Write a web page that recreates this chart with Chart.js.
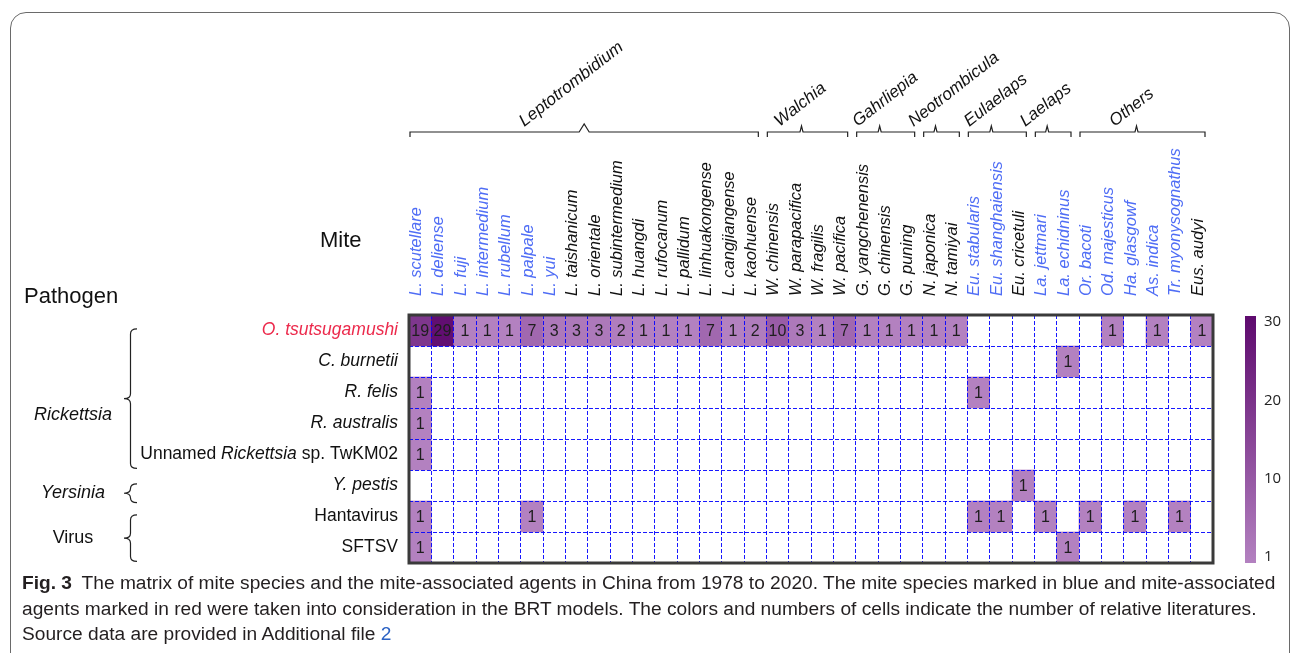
<!DOCTYPE html>
<html>
<head>
<meta charset="utf-8">
<script src="https://cdn.jsdelivr.net/npm/chart.js@4.4.1/dist/chart.umd.min.js"></script>
<style>
  body { margin: 0; background: #fff; width: 1295px; height: 653px; overflow: hidden; position: relative; font-family: 'Liberation Sans', Arial, sans-serif; }
  #frame { position: absolute; left: 10px; top: 12px; width: 1278px; height: 720px; border: 1.3px solid #6a6a6a; border-radius: 16px; }
  #wrap { position: absolute; left: 0; top: 0; }
  #caption { position: absolute; left: 22px; top: 571px; font-size: 18px; line-height: 25.5px; color: #231f20; white-space: nowrap; transform-origin: 0 0; }
  #caption b { margin-right: 9px; }
  #caption .ref { color: #2b62c4; }
</style>
</head>
<body>
<div id="frame"></div>
<div id="wrap"><canvas id="matriz" width="1295" height="653"></canvas></div>
<div id="caption">
  <div><span id="linha1"><b>Fig. 3</b>The matrix of mite species and the mite-associated agents in China from 1978 to 2020. The mite species marked in blue and mite-associated</span></div>
  <div>agents marked in red were taken into consideration in the BRT models. The colors and numbers of cells indicate the number of relative literatures.</div>
  <div>Source data are provided in Additional file <span class="ref">2</span></div>
</div>
<script>
  // ESPÉCIES DE ÁCAROS (colunas)
  const mites = ['L. scutellare', 'L. deliense', 'L. fuji', 'L. intermedium', 'L. rubellum', 'L. palpale', 'L. yui',
    'L. taishanicum', 'L. orientale', 'L. subintermedium', 'L. huangdi', 'L. rufocanum', 'L. pallidum',
    'L. linhuakongense', 'L. cangjiangense', 'L. kaohuense',
    'W. chinensis', 'W. parapacifica', 'W. fragilis', 'W. pacifica',
    'G. yangchenensis', 'G. chinensis', 'G. puning',
    'N. japonica', 'N. tamiyai',
    'Eu. stabularis', 'Eu. shanghaiensis', 'Eu. cricetuli',
    'La. jettmari', 'La. echidninus',
    'Or. bacoti', 'Od. majesticus', 'Ha. glasgowf', 'As. indica', 'Tr. myonysognathus', 'Eus. audyi'];

  // 1 = considered in the BRT models (blue label)
  const inBRT = [1,1,1,1,1,1,1, 0,0,0,0,0,0, 0,0,0, 0,0,0,0, 0,0,0, 0,0, 1,1,0, 1,1, 1,1,1,1,1,0];

  const genera = ['Leptotrombidium', 'Walchia', 'Gahrliepia', 'Neotrombicula', 'Eulaelaps', 'Laelaps', 'Others'];
  const genusCols = [[0, 15], [16, 19], [20, 22], [23, 24], [25, 27], [28, 29], [30, 35]];

  // PATÓGENOS (linhas) - pieces of [text, italic]
  const pathogens = [
    [['O. tsutsugamushi', true]],
    [['C. burnetii', true]],
    [['R. felis', true]],
    [['R. australis', true]],
    [['Unnamed ', false], ['Rickettsia', true], [' sp. TwKM02', false]],
    [['Y. pestis', true]],
    [['Hantavirus', false]],
    [['SFTSV', false]]
  ];
  const brtPathogen = [1,0,0,0,0,0,0,0];

  const pathogenGroups = ['Rickettsia', 'Yersinia', 'Virus'];
  const groupItalic = [true, true, false];
  const groupRows = [[0, 4], [5, 5], [6, 7]];

  // number of literatures, one array per pathogen
  //                     Leptotrombidium                    | Walchia  | Gahr. | Neo | Eulael.| Lael.| Others
  const oTsutsugamushi = [19,29,1,1,1,7,3,3,3,2,1,1,1,7,1,2, 10,3,1,7, 1,1,1, 1,1, 0,0,0, 0,0, 0,1,0,1,0,1];
  const cBurnetii      = [0,0,0,0,0,0,0,0,0,0,0,0,0,0,0,0,  0,0,0,0,  0,0,0, 0,0, 0,0,0, 0,1, 0,0,0,0,0,0];
  const rFelis         = [1,0,0,0,0,0,0,0,0,0,0,0,0,0,0,0,  0,0,0,0,  0,0,0, 0,0, 1,0,0, 0,0, 0,0,0,0,0,0];
  const rAustralis     = [1,0,0,0,0,0,0,0,0,0,0,0,0,0,0,0,  0,0,0,0,  0,0,0, 0,0, 0,0,0, 0,0, 0,0,0,0,0,0];
  const unnamedRick    = [1,0,0,0,0,0,0,0,0,0,0,0,0,0,0,0,  0,0,0,0,  0,0,0, 0,0, 0,0,0, 0,0, 0,0,0,0,0,0];
  const yPestis        = [0,0,0,0,0,0,0,0,0,0,0,0,0,0,0,0,  0,0,0,0,  0,0,0, 0,0, 0,0,1, 0,0, 0,0,0,0,0,0];
  const hantavirus     = [1,0,0,0,0,1,0,0,0,0,0,0,0,0,0,0,  0,0,0,0,  0,0,0, 0,0, 1,1,0, 1,0, 1,0,1,0,1,0];
  const sftsv          = [1,0,0,0,0,0,0,0,0,0,0,0,0,0,0,0,  0,0,0,0,  0,0,0, 0,0, 0,0,0, 0,1, 0,0,0,0,0,0];

  const rows = [oTsutsugamushi, cBurnetii, rFelis, rAustralis, unnamedRick, yPestis, hantavirus, sftsv];

  const colorTicks = [1, 10, 20, 30];

  const FONT = '"Liberation Sans", Arial, sans-serif';
  const light = [179, 129, 192];
  const dark = [94, 10, 110];
  function shade(v) {
    const t = Math.max(0, Math.min(1, (v - 1) / 29));
    const c = light.map((l, i) => Math.round(l + (dark[i] - l) * t));
    return 'rgb(' + c.join(',') + ')';
  }

  function brace(ctx, xr, top, bot, w) {
    const xm = xr - w / 2, xl = xr - w, mid = (top + bot) / 2;
    const r = Math.min(5, (bot - top) / 4);
    ctx.beginPath();
    ctx.moveTo(xr, top);
    ctx.quadraticCurveTo(xm, top, xm, top + r);
    ctx.lineTo(xm, mid - r);
    ctx.quadraticCurveTo(xm, mid, xl, mid);
    ctx.quadraticCurveTo(xm, mid, xm, mid + r);
    ctx.lineTo(xm, bot - r);
    ctx.quadraticCurveTo(xm, bot, xr, bot);
    ctx.stroke();
  }

  const extras = {
    id: 'extras',
    afterDraw(chart) {
      const {ctx, chartArea: a, scales: {x, y}} = chart;
      const colW = x.getPixelForValue(1) - x.getPixelForValue(0);
      ctx.save();

      // numbers in cells
      ctx.font = '16px ' + FONT;
      ctx.fillStyle = '#1e1e1e';
      ctx.textAlign = 'center';
      ctx.textBaseline = 'middle';
      rows.forEach((row, i) => {
        const meta = chart.getDatasetMeta(i);
        row.forEach((v, j) => {
          if (!v) return;
          const p = meta.data[j].getCenterPoint();
          ctx.fillText(String(v), p.x, p.y + 1);
        });
      });

      // matrix border
      ctx.strokeStyle = '#3a3a3a';
      ctx.lineWidth = 3;
      ctx.strokeRect(a.left, a.top, a.right - a.left, a.bottom - a.top);

      // pathogen labels
      ctx.textBaseline = 'middle';
      ctx.textAlign = 'left';
      pathogens.forEach((parts, i) => {
        const yy = y.getPixelForValue(i + 0.5);
        let w = 0;
        parts.forEach(([t, it]) => { ctx.font = (it ? 'italic ' : '') + '17.5px ' + FONT; w += ctx.measureText(t).width; });
        let xx = a.left - 11 - w;
        ctx.fillStyle = brtPathogen[i] ? '#ec2a4c' : '#111';
        parts.forEach(([t, it]) => {
          ctx.font = (it ? 'italic ' : '') + '17.5px ' + FONT;
          ctx.fillText(t, xx, yy);
          xx += ctx.measureText(t).width;
        });
      });

      // pathogen groups with braces
      ctx.strokeStyle = '#222';
      ctx.lineWidth = 1.2;
      ctx.fillStyle = '#111';
      ctx.textAlign = 'center';
      pathogenGroups.forEach((g, k) => {
        const [r0, r1] = groupRows[k];
        const top = y.getPixelForValue(r0 + 0.45), bot = y.getPixelForValue(r1 + (r0 === r1 ? 1.05 : 0.95));
        brace(ctx, 137, top, bot, 13);
        ctx.font = (groupItalic[k] ? 'italic ' : '') + '18px ' + FONT;
        ctx.fillText(g, 73, (top + bot) / 2 + (k === 0 ? 16 : 0));
      });

      // genus brackets on top
      const yb = a.top - 183;
      const ang = 38 * Math.PI / 180;
      genera.forEach((g, k) => {
        const [c0, c1] = genusCols[k];
        const x0 = x.getPixelForValue(c0) - colW / 2 + 1;
        const x1 = x.getPixelForValue(c1) + colW / 2 - 8;
        const xm = (x0 + x1) / 2 - (k > 0 ? 6 : 0);
        const ph = k === 0 ? 8 : 6, pw = k === 0 ? 5 : 1.5;
        ctx.beginPath();
        ctx.moveTo(x0, yb + 5);
        ctx.lineTo(x0, yb);
        ctx.lineTo(xm - pw, yb);
        ctx.lineTo(xm, yb - ph);
        ctx.lineTo(xm + pw, yb);
        ctx.lineTo(x1, yb);
        ctx.lineTo(x1, yb + 5);
        ctx.stroke();
        ctx.font = 'italic 17px ' + FONT;
        const tw = ctx.measureText(g).width;
        // the long first name is centred over its bracket, the short ones start just left of the notch
        const sx = k === 0 ? xm - 10 - tw / 2 * Math.cos(ang) : xm - 22;
        ctx.save();
        ctx.translate(sx, yb - 5);
        ctx.rotate(-ang);
        ctx.textAlign = 'left';
        ctx.textBaseline = 'alphabetic';
        ctx.fillText(g, 0, 0);
        ctx.restore();
      });

      // titles
      ctx.font = '22px ' + FONT;
      ctx.textAlign = 'left';
      ctx.textBaseline = 'alphabetic';
      ctx.fillText('Mite', 320, 247);
      ctx.fillText('Pathogen', 24, 303);

      // colour bar
      const cbx = 1245, cbw = 11, cbt = a.top + 1, cbb = a.bottom;
      const grad = ctx.createLinearGradient(0, cbb, 0, cbt);
      grad.addColorStop(0, shade(1));
      grad.addColorStop(1, shade(30));
      ctx.fillStyle = grad;
      ctx.fillRect(cbx, cbt, cbw, cbb - cbt);
      ctx.fillStyle = '#222';
      ctx.font = '15px "Open Sans", ' + FONT;
      ctx.textBaseline = 'middle';
      colorTicks.forEach((v, i) => {
        const yy = cbb - 6 - i * (cbb - cbt - 12) / (colorTicks.length - 1);
        ctx.fillText(String(v), 1264, yy);
      });
      ctx.restore();
    }
  };

  const matriz = document.getElementById('matriz');

  Chart.defaults.font.family = FONT;
  Chart.defaults.color = '#111';

  new Chart(matriz, {
    type: 'bar',
    data: {
      labels: mites,
      datasets: rows.map((row, i) => ({
        label: pathogens[i].map(p => p[0]).join(''),
        data: row.map(v => v ? [i, i + 1] : null),
        backgroundColor: ctx => shade(row[ctx.dataIndex]),
        borderWidth: 0,
        barPercentage: 1,
        categoryPercentage: 1,
        grouped: false
      }))
    },
    options: {
      responsive: false,
      animation: false,
      layout: { padding: { left: 409, right: 82, top: 0, bottom: 90 } },
      plugins: { legend: { display: false }, tooltip: { enabled: false } },
      scales: {
        x: {
          position: 'top',
          offset: true,
          grid: { offset: true, color: 'rgba(0,0,255,0.9)', lineWidth: 1, drawTicks: false, z: 1 },
          border: { display: false, dash: [4, 2] },
          ticks: {
            autoSkip: false,
            minRotation: 90,
            maxRotation: 90,
            padding: 19,
            labelOffset: 16,
            font: { size: 16.5, style: 'italic' },
            color: ctx => inBRT[ctx.index] ? '#4f6df5' : '#111'
          },
          afterFit: s => { s.height = 315; }
        },
        y: {
          min: 0,
          max: 8,
          reverse: true,
          grid: { color: 'rgba(0,0,255,0.9)', lineWidth: 1, drawTicks: false, z: 1 },
          border: { display: false, dash: [4, 2] },
          ticks: { stepSize: 1, display: false },
          afterFit: s => { s.width = 0; }
        }
      }
    },
    plugins: [extras]
  });

  // caption is set in a condensed face in the original; squeeze it to the same width
  const l1 = document.getElementById('linha1');
  document.getElementById('caption').style.transform = 'scaleX(' + (1253 / l1.offsetWidth) + ')';
</script>
</body>
</html>
